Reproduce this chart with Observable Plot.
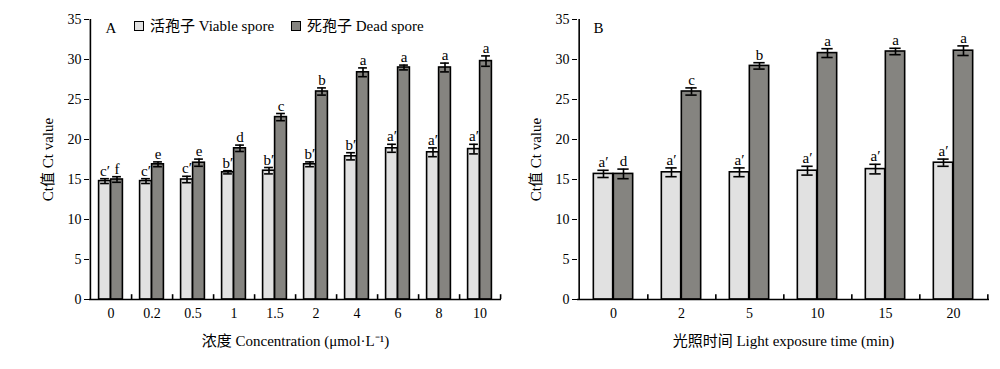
<!DOCTYPE html>
<html>
<head>
<meta charset="utf-8">
<script src="https://cdn.jsdelivr.net/npm/d3@7"></script>
<script src="https://cdn.jsdelivr.net/npm/@observablehq/plot@0.6"></script>
<style>
  body { margin: 0; background: #fff; }
  #wrap { position: relative; width: 1000px; height: 369px; font-family: "Liberation Serif", "Noto Sans CJK SC", serif; color: #000; }
  .panel { position: absolute; top: 0; }
  .legend { position: absolute; top: 17px; font-size: 15px; line-height: 18px; white-space: nowrap; }
  .sw { position: absolute; width: 10px; height: 10px; border: 1.5px solid #000; box-sizing: border-box; }
</style>
</head>
<body>
<div id="wrap"></div>
<script>
// Panel A: concentration
const concCats = ["0", "0.2", "0.5", "1", "1.5", "2", "4", "6", "8", "10"];
const concViable = [14.8, 14.8, 15.0, 15.9, 16.1, 16.9, 17.9, 18.9, 18.4, 18.8];
const concViableSd = [0.3, 0.3, 0.4, 0.2, 0.4, 0.3, 0.45, 0.5, 0.55, 0.6];
const concViableSig = ["c′", "c′", "c′", "b′", "b′", "b′", "b′", "a′", "a′", "a′"];
const concDead = [15.0, 16.9, 17.1, 18.9, 22.8, 26.0, 28.4, 29.0, 29.0, 29.8];
const concDeadSd = [0.35, 0.3, 0.45, 0.4, 0.45, 0.45, 0.55, 0.3, 0.55, 0.65];
const concDeadSig = ["f", "e", "e", "d", "c", "b", "a", "a", "a", "a"];

// Panel B: light exposure time
const timeCats = ["0", "2", "5", "10", "15", "20"];
const timeViable = [15.7, 15.9, 15.9, 16.1, 16.3, 17.1];
const timeViableSd = [0.45, 0.55, 0.55, 0.55, 0.6, 0.45];
const timeViableSig = ["a′", "a′", "a′", "a′", "a′", "a′"];
const timeDead = [15.7, 26.0, 29.2, 30.8, 31.0, 31.1];
const timeDeadSd = [0.6, 0.45, 0.4, 0.55, 0.4, 0.6];
const timeDeadSig = ["d", "c", "b", "a", "a", "a"];

const yTicks = [0, 5, 10, 15, 20, 25, 30, 35];
const yLabel = "Ct值 Ct value";
const legendLabels = ["活孢子 Viable spore", "死孢子 Dead spore"];
const LIGHT = "#e1e1e1", DARK = "#858480";
const FONT = "'Liberation Serif', 'Noto Sans CJK SC', serif";

function rows(cats, vals, sds, sigs) {
  return cats.map((c, i) => ({cat: c, value: vals[i], sd: sds[i], sig: sigs[i]}));
}

function panel(o) {
  const n = o.cats.length;
  const bw = (o.width - o.marginLeft - o.marginRight) / n;
  const A = rows(o.cats, o.viable, o.viableSd, o.viableSig);
  const B = rows(o.cats, o.dead, o.deadSd, o.deadSig);
  const w = o.barW, c = o.capW;
  const errMarks = (data, dx) => [
    Plot.ruleX(data, {x: "cat", y1: d => d.value - d.sd, y2: d => d.value + d.sd, dx, strokeWidth: 1.6}),
    Plot.tickY(data, {x: "cat", y: d => d.value + d.sd, insetLeft: bw / 2 + dx - c / 2, insetRight: bw / 2 - dx - c / 2, strokeWidth: 1.6}),
    Plot.tickY(data, {x: "cat", y: d => d.value - d.sd, insetLeft: bw / 2 + dx - c / 2, insetRight: bw / 2 - dx - c / 2, strokeWidth: 1.6}),
    Plot.text(data, {x: "cat", y: d => d.value + d.sd, text: "sig", dx, dy: -3, lineAnchor: "bottom", fontSize: 15})
  ];
  return Plot.plot({
    width: o.width,
    height: 369,
    marginTop: 19,
    marginBottom: 70,
    marginLeft: o.marginLeft,
    marginRight: o.marginRight,
    style: {fontFamily: FONT, fontSize: "14px", color: "#000", background: "transparent", overflow: "visible"},
    x: {domain: o.cats, padding: 0, tickSize: 0, tickPadding: 9, label: null},
    y: {domain: [0, 35], ticks: yTicks, tickSize: 5, tickPadding: 3, label: null},
    marks: [
      Plot.barY(A, {x: "cat", y: "value", fill: LIGHT, stroke: "#000", strokeWidth: 1.6, insetLeft: bw / 2 - w, insetRight: bw / 2}),
      Plot.barY(B, {x: "cat", y: "value", fill: DARK, stroke: "#000", strokeWidth: 1.6, insetLeft: bw / 2, insetRight: bw / 2 - w}),
      ...errMarks(A, -w / 2),
      ...errMarks(B, w / 2),
      Plot.ruleY([0], {strokeWidth: 1.6}),
      Plot.ruleX([o.cats[0]], {dx: -bw / 2, strokeWidth: 1.6}),
      Plot.ruleX(o.cats, {x: d => d, y1: 0, y2: 0.6, dx: bw / 2, strokeWidth: 1.6}),
      Plot.text([o.letter], {frameAnchor: "top-left", dx: 16, dy: 3, lineAnchor: "top", textAnchor: "start", fontSize: 15}),
      Plot.text([o.xLabel], {frameAnchor: "bottom", dy: 42, lineAnchor: "middle", fontSize: 15}),
      Plot.text([yLabel], {frameAnchor: "left", dx: -41, rotate: -90, lineAnchor: "middle", textAnchor: "middle", fontSize: 15})
    ]
  });
}

const wrap = document.getElementById("wrap");

const pA = panel({
  cats: concCats, viable: concViable, viableSd: concViableSd, viableSig: concViableSig,
  dead: concDead, deadSd: concDeadSd, deadSig: concDeadSig,
  width: 510, marginLeft: 89, marginRight: 9, barW: 12, capW: 9,
  xLabel: "浓度 Concentration (μmol·L⁻¹)", letter: "A"
});
pA.classList.add("panel");
pA.style.left = "0px";
wrap.appendChild(pA);

const pB = panel({
  cats: timeCats, viable: timeViable, viableSd: timeViableSd, viableSig: timeViableSig,
  dead: timeDead, deadSd: timeDeadSd, deadSig: timeDeadSig,
  width: 500, marginLeft: 77, marginRight: 11, barW: 20, capW: 12,
  xLabel: "光照时间 Light exposure time (min)", letter: "B"
});
pB.classList.add("panel");
pB.style.left = "500px";
wrap.appendChild(pB);

// Legend
const legendFills = [LIGHT, DARK];
const legendLeft = [134, 291];
legendLabels.forEach((lab, i) => {
  const sw = document.createElement("div");
  sw.className = "sw";
  sw.style.left = legendLeft[i] + "px";
  sw.style.top = "21px";
  sw.style.background = legendFills[i];
  wrap.appendChild(sw);
  const t = document.createElement("div");
  t.className = "legend";
  t.style.left = (legendLeft[i] + 16) + "px";
  t.textContent = lab;
  wrap.appendChild(t);
});
</script>
</body>
</html>
